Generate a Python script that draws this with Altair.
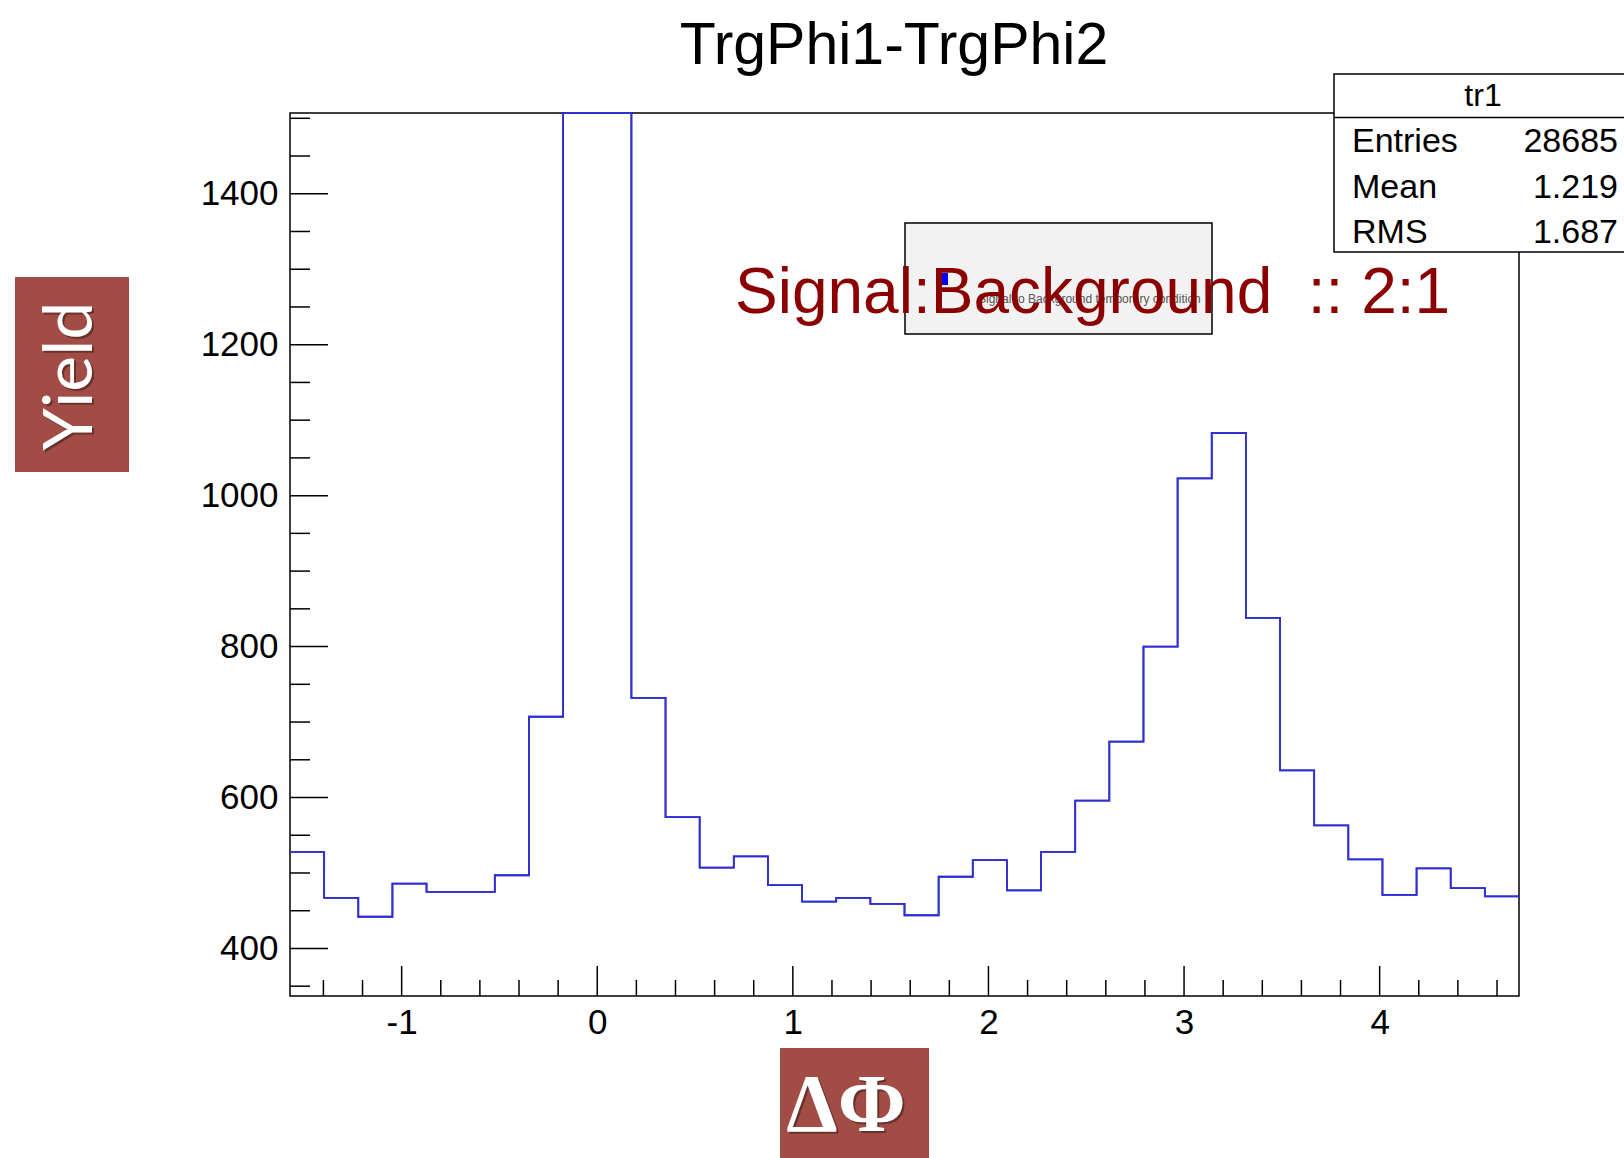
import math
import altair as alt
import pandas as pd

# ---------------- data ----------------
bin_lo = -math.pi / 2
bin_hi = 3 * math.pi / 2
n_bins = 36
counts = [528, 467, 442, 486, 475, 475, 497, 707, 4650, 4633, 732, 574,
          507, 522, 484, 462, 467, 459, 444, 495, 517, 477, 528, 596,
          674, 800, 1023, 1083, 838, 636, 563, 518, 471, 506, 480, 469]
x_major = [-1, 0, 1, 2, 3, 4]
x_minor = [-1.4, -1.2, -0.8, -0.6, -0.4, -0.2, 0.2, 0.4, 0.6, 0.8, 1.2, 1.4,
           1.6, 1.8, 2.2, 2.4, 2.6, 2.8, 3.2, 3.4, 3.6, 3.8, 4.2, 4.4, 4.6]
y_major = [400, 600, 800, 1000, 1200, 1400]
y_minor = [350, 450, 500, 550, 650, 700, 750, 850, 900, 950, 1050, 1100,
           1150, 1250, 1300, 1350, 1450, 1500]
y_domain = [337, 1507]
title_text = "TrgPhi1-TrgPhi2"
stats_name = "tr1"
stats_labels = ["Entries", "Mean", "RMS"]
stats_values = ["28685", "1.219", "1.687"]
annotation = "Signal:Background\u00a0 :: 2:1"
legend_entry = "Signal to Background temporary condition"
x_title = "ΔΦ"
y_title = "Yield"

# ---------------- layout ----------------
W, H = 1229, 883
FONT = "Liberation Sans"
LINE_COLOR = "#3030d0"
LABEL_BOX = "#a14c45"

width_step = (bin_hi - bin_lo) / n_bins
edges = [bin_lo + i * width_step for i in range(n_bins + 1)]
hist = pd.DataFrame({"x": edges, "y": counts + [counts[-1]]})
one = pd.DataFrame({"a": [0]})

xs = alt.Scale(domain=[bin_lo, bin_hi], nice=False, zero=False)
ys = alt.Scale(domain=y_domain, nice=False, zero=False, clamp=True)

x_axis = alt.Axis(values=x_major, ticks=False, domain=False, grid=False, title=None,
                  labelFont=FONT, labelFontSize=35, labelColor="black", labelPadding=9,
                  labelExpr="toString(datum.value)")
y_axis = alt.Axis(values=y_major, ticks=False, domain=False, grid=False, title=None,
                  labelFont=FONT, labelFontSize=35, labelColor="black", labelPadding=12,
                  labelExpr="toString(datum.value)")


def rect(x1, x2, y1, y2, **kw):
    return alt.Chart(one).mark_rect(**kw).encode(
        x=alt.value(x1), x2=alt.value(x2), y=alt.value(y1), y2=alt.value(y2))


def hrule(x1, x2, y, **kw):
    return alt.Chart(one).mark_rule(**kw).encode(
        x=alt.value(x1), x2=alt.value(x2), y=alt.value(y))


def txt(text, x, y, size, color="black", align="left", baseline="alphabetic",
        font=FONT, weight="normal", angle=None, opacity=1.0):
    kw = dict(text=text, fontSize=size, color=color, align=align,
              baseline=baseline, font=font, fontWeight=weight, opacity=opacity)
    if angle is not None:
        kw["angle"] = angle
    return alt.Chart(one).mark_text(**kw).encode(x=alt.value(x), y=alt.value(y))


layers = []

# histogram (first, carries the axes)
layers.append(alt.Chart(hist).mark_line(
    interpolate="step-after", color=LINE_COLOR, strokeWidth=1.8).encode(
    x=alt.X("x:Q", scale=xs, axis=x_axis),
    y=alt.Y("y:Q", scale=ys, axis=y_axis),
))

# frame
layers.append(rect(0, W, 0, H, filled=False, stroke="black", strokeWidth=1.5))

# inside ticks
ymaj = pd.DataFrame({"v": y_major})
ymin = pd.DataFrame({"v": y_minor})
xmaj = pd.DataFrame({"v": x_major})
xmin = pd.DataFrame({"v": x_minor})
layers.append(alt.Chart(ymaj).mark_rule(color="black", strokeWidth=1.5).encode(
    y=alt.Y("v:Q", scale=ys, axis=y_axis), x=alt.value(0), x2=alt.value(38)))
layers.append(alt.Chart(ymin).mark_rule(color="black", strokeWidth=1.5).encode(
    y=alt.Y("v:Q", scale=ys, axis=y_axis), x=alt.value(0), x2=alt.value(20)))
layers.append(alt.Chart(xmaj).mark_rule(color="black", strokeWidth=1.5).encode(
    x=alt.X("v:Q", scale=xs, axis=x_axis), y=alt.value(H), y2=alt.value(H - 30)))
layers.append(alt.Chart(xmin).mark_rule(color="black", strokeWidth=1.5).encode(
    x=alt.X("v:Q", scale=xs, axis=x_axis), y=alt.value(H), y2=alt.value(H - 16)))

# redraw histogram on top of frame
layers.append(alt.Chart(hist).mark_line(
    interpolate="step-after", color=LINE_COLOR, strokeWidth=1.8).encode(
    x=alt.X("x:Q", scale=xs, axis=x_axis),
    y=alt.Y("y:Q", scale=ys, axis=y_axis),
))

# legend box
layers.append(rect(615, 922, 110, 221, fill="#f2f2f2", stroke="black", strokeWidth=1.5))
layers.append(rect(651, 658, 160, 172, fill="#0000ff"))
layers.append(txt(legend_entry, 688, 190, 12, color="#555555"))

# annotation
layers.append(txt(annotation, 445, 200, 64, color="#8b0000"))

# stats box
layers.append(rect(1044, 1345, -39, 139, fill="white", stroke="black", strokeWidth=1.5))
layers.append(hrule(1044, 1345, 4.5, color="black", strokeWidth=1.5))
layers.append(txt(stats_name, 1193, -7, 32, align="center"))
for i, (lab, val) in enumerate(zip(stats_labels, stats_values)):
    yy = 39 + i * 45.5
    layers.append(txt(lab, 1062, yy, 34))
    layers.append(txt(val, 1328, yy, 34, align="right"))

# title
layers.append(txt(title_text, 604, -49, 59, align="center"))

# y label box
layers.append(rect(-275, -161, 164, 359, fill=LABEL_BOX))
layers.append(txt(y_title, -216, 265, 68, color="black", align="center",
                  baseline="middle", font="Lato", angle=270, opacity=0.35))
layers.append(txt(y_title, -218, 263, 68, color="white", align="center",
                  baseline="middle", font="Lato", angle=270))

# x label box
layers.append(rect(490, 639, 935, 1050, fill=LABEL_BOX))
layers.append(txt(x_title, 558, 1020, 82, color="black", align="center",
                  font="Liberation Serif", weight="bold", opacity=0.35))
layers.append(txt(x_title, 556, 1018, 82, color="white", align="center",
                  font="Liberation Serif", weight="bold"))

chart = alt.layer(*layers).properties(
    width=W, height=H,
    autosize=alt.AutoSizeParams(type="none"),
    padding={"left": 290, "top": 113, "right": 105, "bottom": 162},
    background="white",
).configure_view(stroke=None)

chart.save("out.html", embed_options={"renderer": "svg", "actions": False})
